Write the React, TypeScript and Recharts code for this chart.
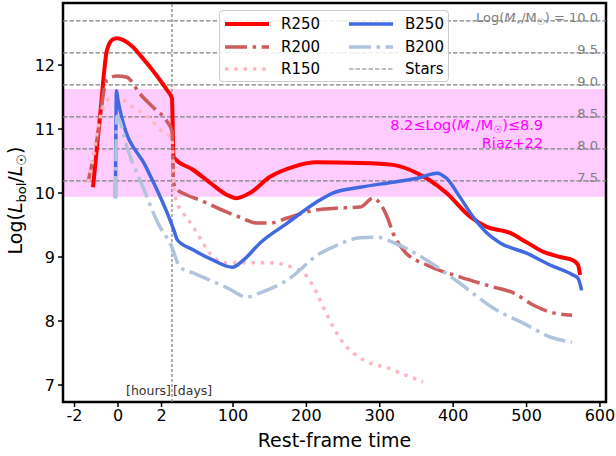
import React from "react";
import {
  LineChart,
  Line,
  XAxis,
  YAxis,
  ReferenceLine,
  ReferenceArea
} from "recharts";

// broken time axis: hours left of the divider, days right of it
const DAY_ORIGIN = 1.912;
const DAY_STEP = 0.03375;
const fromDays = (d: number) => DAY_ORIGIN + d * DAY_STEP;

const hourTicks = [-2, 0, 2];
const dayTicks = [100, 200, 300, 400, 500, 600];
const splitHour = 2.48;
const xDomain = [-2.53, 22.44];
const yDomain = [6.734, 12.97];
const yTicks = [7, 8, 9, 10, 11, 12];

// stellar-mass luminosity levels
const starLevels = [12.69, 12.19, 11.69, 11.19, 10.69, 10.19];
const starLabels = ["10.0", "9.5", "9.0", "8.5", "8.0", "7.5"];
const riazBand = [9.94, 11.625];

// [hours, log L]
const r250Hours = [[-1.15, 10.09], [-0.83, 11.19], [-0.51, 12.23], [-0.25, 12.4], [-0.05, 12.42], [0.3, 12.38], [0.69, 12.28], [1.1, 12.12], [1.47, 11.97], [1.9, 11.78], [2.25, 11.61], [2.48, 11.48]];
const r200Hours = [[-1.38, 10.17], [-0.97, 10.83], [-0.51, 11.77], [-0.05, 11.83], [0.41, 11.81], [1.01, 11.55], [1.61, 11.34], [2.25, 11.12], [2.48, 10.97]];
const r150Hours = [[-1.38, 10.17], [-1.15, 10.56], [-0.92, 11.03], [-0.51, 11.45], [-0.05, 11.5], [0.69, 11.34], [1.38, 11.19], [2.07, 10.95], [2.48, 10.86]];
const b250Hours = [[-0.12, 9.92], [-0.07, 11.6], [0.0, 11.45], [0.18, 11.17], [1.3, 10.4], [2.39, 9.58], [2.48, 9.5]];
const b200Hours = [[-0.12, 9.92], [-0.05, 11.2], [0.05, 11.15], [0.41, 10.72], [1.15, 10.09], [1.93, 9.47], [2.25, 9.3], [2.48, 9.15]];

// [days, log L]
const r250Days = [[19, 10.56], [46, 10.36], [69, 10.16], [92, 9.97], [105, 9.92], [123, 10.0], [150, 10.25], [182, 10.41], [214, 10.48], [273, 10.47], [318, 10.44], [351, 10.31], [368, 10.2], [391, 10.0], [423, 9.63], [446, 9.47], [477, 9.38], [500, 9.23], [523, 9.08], [546, 9.0], [563, 8.95], [570, 8.88], [573, 8.72]];
const r200Days = [[19, 10.2], [21, 10.09], [37, 9.97], [55, 9.89], [92, 9.7], [110, 9.62], [133, 9.53], [150, 9.53], [174, 9.61], [210, 9.73], [236, 9.76], [273, 9.78], [291, 9.92], [300, 9.84], [310, 9.63], [318, 9.375], [332, 9.11], [364, 8.875], [409, 8.69], [455, 8.53], [482, 8.44], [509, 8.25], [532, 8.14], [562, 8.09]];
const r150Days = [[19, 10.3], [22, 9.9], [32, 9.69], [46, 9.47], [59, 9.22], [73, 9.0], [92, 8.91], [119, 8.91], [150, 8.91], [182, 8.83], [201, 8.69], [214, 8.44], [223, 8.22], [236, 7.92], [250, 7.66], [264, 7.5], [287, 7.34], [310, 7.27], [327, 7.19], [359, 7.05]];
const b250Days = [[20, 9.4], [24, 9.27], [46, 9.11], [73, 8.95], [99, 8.84], [114, 8.95], [137, 9.22], [174, 9.53], [214, 9.86], [236, 10.0], [273, 10.09], [318, 10.17], [351, 10.23], [378, 10.31], [391, 10.23], [409, 9.94], [427, 9.63], [446, 9.375], [464, 9.22], [500, 9.06], [532, 8.875], [563, 8.72], [570, 8.67], [575, 8.48]];
const b200Days = [[19, 9.08], [28, 8.84], [46, 8.75], [92, 8.52], [119, 8.375], [137, 8.44], [174, 8.64], [219, 9.06], [237, 9.16], [273, 9.3], [296, 9.31], [318, 9.23], [364, 8.95], [409, 8.59], [455, 8.2], [500, 7.94], [532, 7.75], [562, 7.67]];

const toPoints = (hours: number[][], days: number[][]) => [
  ...hours.map(([h, L]) => ({ t: h, L })),
  ...days.map(([d, L]) => ({ t: fromDays(d), L }))
];

const series = [
  { name: "R250", color: "#ff0000", width: 4, dash: undefined, data: toPoints(r250Hours, r250Days) },
  { name: "R200", color: "#cd5c5c", width: 3.5, dash: "22 5.6 3.5 5.6", data: toPoints(r200Hours, r200Days) },
  { name: "R150", color: "#ffb6c1", width: 3.5, dash: "3.5 5.8", data: toPoints(r150Hours, r150Days) },
  { name: "B250", color: "#4169e1", width: 3.5, dash: undefined, data: toPoints(b250Hours, b250Days) },
  { name: "B200", color: "#b0c4de", width: 3.5, dash: "22 5.6 3.5 5.6", data: toPoints(b200Hours, b200Days) }
];

const xTicks = [
  ...hourTicks.map((h) => ({ pos: h, label: String(h) })),
  ...dayTicks.map((d) => ({ pos: fromDays(d), label: String(d) }))
];
const tickLabel = (v: number) => {
  const hit = xTicks.find((t) => Math.abs(t.pos - v) < 1e-6);
  return hit ? hit.label : "";
};

const legendRows = [
  [series[0], series[3]],
  [series[1], series[4]],
  [series[2], { name: "Stars", color: "#808080", width: 1.2, dash: "4.5 2" }]
];

const starLabel = (text: string, first: boolean) => (props: any) => {
  const vb = props.viewBox;
  const x = vb.x + vb.width - 8;
  const y = vb.y + 1;
  return (
    <text x={x} y={y} textAnchor="end" fill="#808080" fontSize={13}>
      {first ? (
        <>
          Log(<tspan fontStyle="italic">M</tspan>
          <tspan fontSize={9} dy={3}>⋆</tspan>
          <tspan dy={-3}>/M</tspan>
          <tspan fontSize={9} dy={3}>☉</tspan>
          <tspan dy={-3}>{") = " + text}</tspan>
        </>
      ) : (
        text
      )}
    </text>
  );
};

const bandLabel = (props: any) => {
  const vb = props.viewBox;
  const x = vb.x + vb.width - 63;
  return (
    <text textAnchor="end" fill="#ff00ff" fontSize={14.5}>
      <tspan x={x} y={vb.y + 41}>
        8.2≤Log(<tspan fontStyle="italic">M</tspan>
        <tspan fontSize={10} dy={3}>⋆</tspan>
        <tspan dy={-3}>/M</tspan>
        <tspan fontSize={10} dy={3}>☉</tspan>
        <tspan dy={-3}>)≤8.9</tspan>
      </tspan>
      <tspan x={x} y={vb.y + 59}>Riaz+22</tspan>
    </text>
  );
};

const splitLabel = (props: any) => {
  const vb = props.viewBox;
  const y = vb.y + vb.height - 7;
  return (
    <g fill="#333333" fontSize={12.5}>
      <text x={vb.x - 1} y={y} textAnchor="end">[hours]</text>
      <text x={vb.x + 1} y={y} textAnchor="start">[days]</text>
    </g>
  );
};

const yTitle = (props: any) => {
  const vb = props.viewBox;
  const x = 22;
  const y = vb.y + vb.height / 2 - 2;
  return (
    <text x={x} y={y} transform={`rotate(-90 ${x} ${y})`} textAnchor="middle" fontSize={19} fill="#000">
      Log(<tspan fontStyle="italic">L</tspan>
      <tspan fontSize={13} dy={4}>bol</tspan>
      <tspan dy={-4}>/</tspan>
      <tspan fontStyle="italic">L</tspan>
      <tspan fontSize={13} dy={4}>☉</tspan>
      <tspan dy={-4}>)</tspan>
    </text>
  );
};

const LegendBox = () => (
  <div
    style={{
      position: "absolute",
      left: 219,
      top: 10,
      width: 230,
      height: 72,
      boxSizing: "border-box",
      border: "1px solid #cccccc",
      borderRadius: 4,
      background: "rgba(255,255,255,0.85)",
      fontSize: 15
    }}
  >
    {legendRows.map((row, i) =>
      row.map((s, j) => (
        <div
          key={s.name}
          style={{ position: "absolute", left: 5 + j * 124, top: 3 + i * 22.5, height: 20, display: "flex", alignItems: "center" }}
        >
          <svg width={44} height={10}>
            <line x1={0} y1={5} x2={44} y2={5} stroke={s.color} strokeWidth={s.width} strokeDasharray={s.dash} />
          </svg>
          <span style={{ marginLeft: 12 }}>{s.name}</span>
        </div>
      ))
    )}
  </div>
);

export default function App() {
  return (
    <div style={{ position: "absolute", left: 0, top: 0, width: 616, height: 456, fontFamily: "DejaVu Sans", background: "#fff" }}>
      <LineChart width={616} height={456} margin={{ top: 3, right: 10, bottom: 0, left: 0 }}>
        <XAxis
          type="number"
          dataKey="t"
          domain={xDomain}
          allowDataOverflow
          ticks={xTicks.map((t) => t.pos)}
          tickFormatter={tickLabel}
          interval={0}
          height={54}
          axisLine={false}
          tickSize={5}
          tickMargin={3}
          tickLine={{ stroke: "#000", strokeWidth: 1.5 }}
          tick={{ fill: "#000", fontSize: 16 }}
          label={{ value: "Rest-frame time", position: "insideBottom", offset: 9, fontSize: 19, fill: "#000" }}
        />
        <YAxis
          type="number"
          dataKey="L"
          domain={yDomain}
          allowDataOverflow
          ticks={yTicks}
          interval={0}
          width={63}
          axisLine={false}
          tickSize={5}
          tickMargin={3}
          tickLine={{ stroke: "#000", strokeWidth: 1.5 }}
          tick={{ fill: "#000", fontSize: 16 }}
          label={yTitle}
        />
        <ReferenceArea y1={riazBand[0]} y2={riazBand[1]} fill="#ff00ff" fillOpacity={0.2} stroke="none" label={bandLabel} />
        {starLevels.map((lv, i) => (
          <ReferenceLine
            key={lv}
            y={lv}
            stroke="#808080"
            strokeWidth={1.2}
            strokeDasharray="4.5 2"
            label={starLabel(starLabels[i], i === 0)}
          />
        ))}
        <ReferenceLine x={splitHour} stroke="#808080" strokeWidth={1.2} strokeDasharray="3 2" label={splitLabel} />
        {series.map((s) => (
          <Line
            key={s.name}
            data={s.data}
            dataKey="L"
            type="monotone"
            stroke={s.color}
            strokeWidth={s.width}
            strokeDasharray={s.dash}
            dot={false}
            activeDot={false}
            isAnimationActive={false}
          />
        ))}
        <ReferenceArea
          x1={xDomain[0]}
          x2={xDomain[1]}
          y1={yDomain[0]}
          y2={yDomain[1]}
          fill="none"
          fillOpacity={0}
          stroke="#000"
          strokeWidth={2.5}
        />
      </LineChart>
      <LegendBox />
    </div>
  );
}
